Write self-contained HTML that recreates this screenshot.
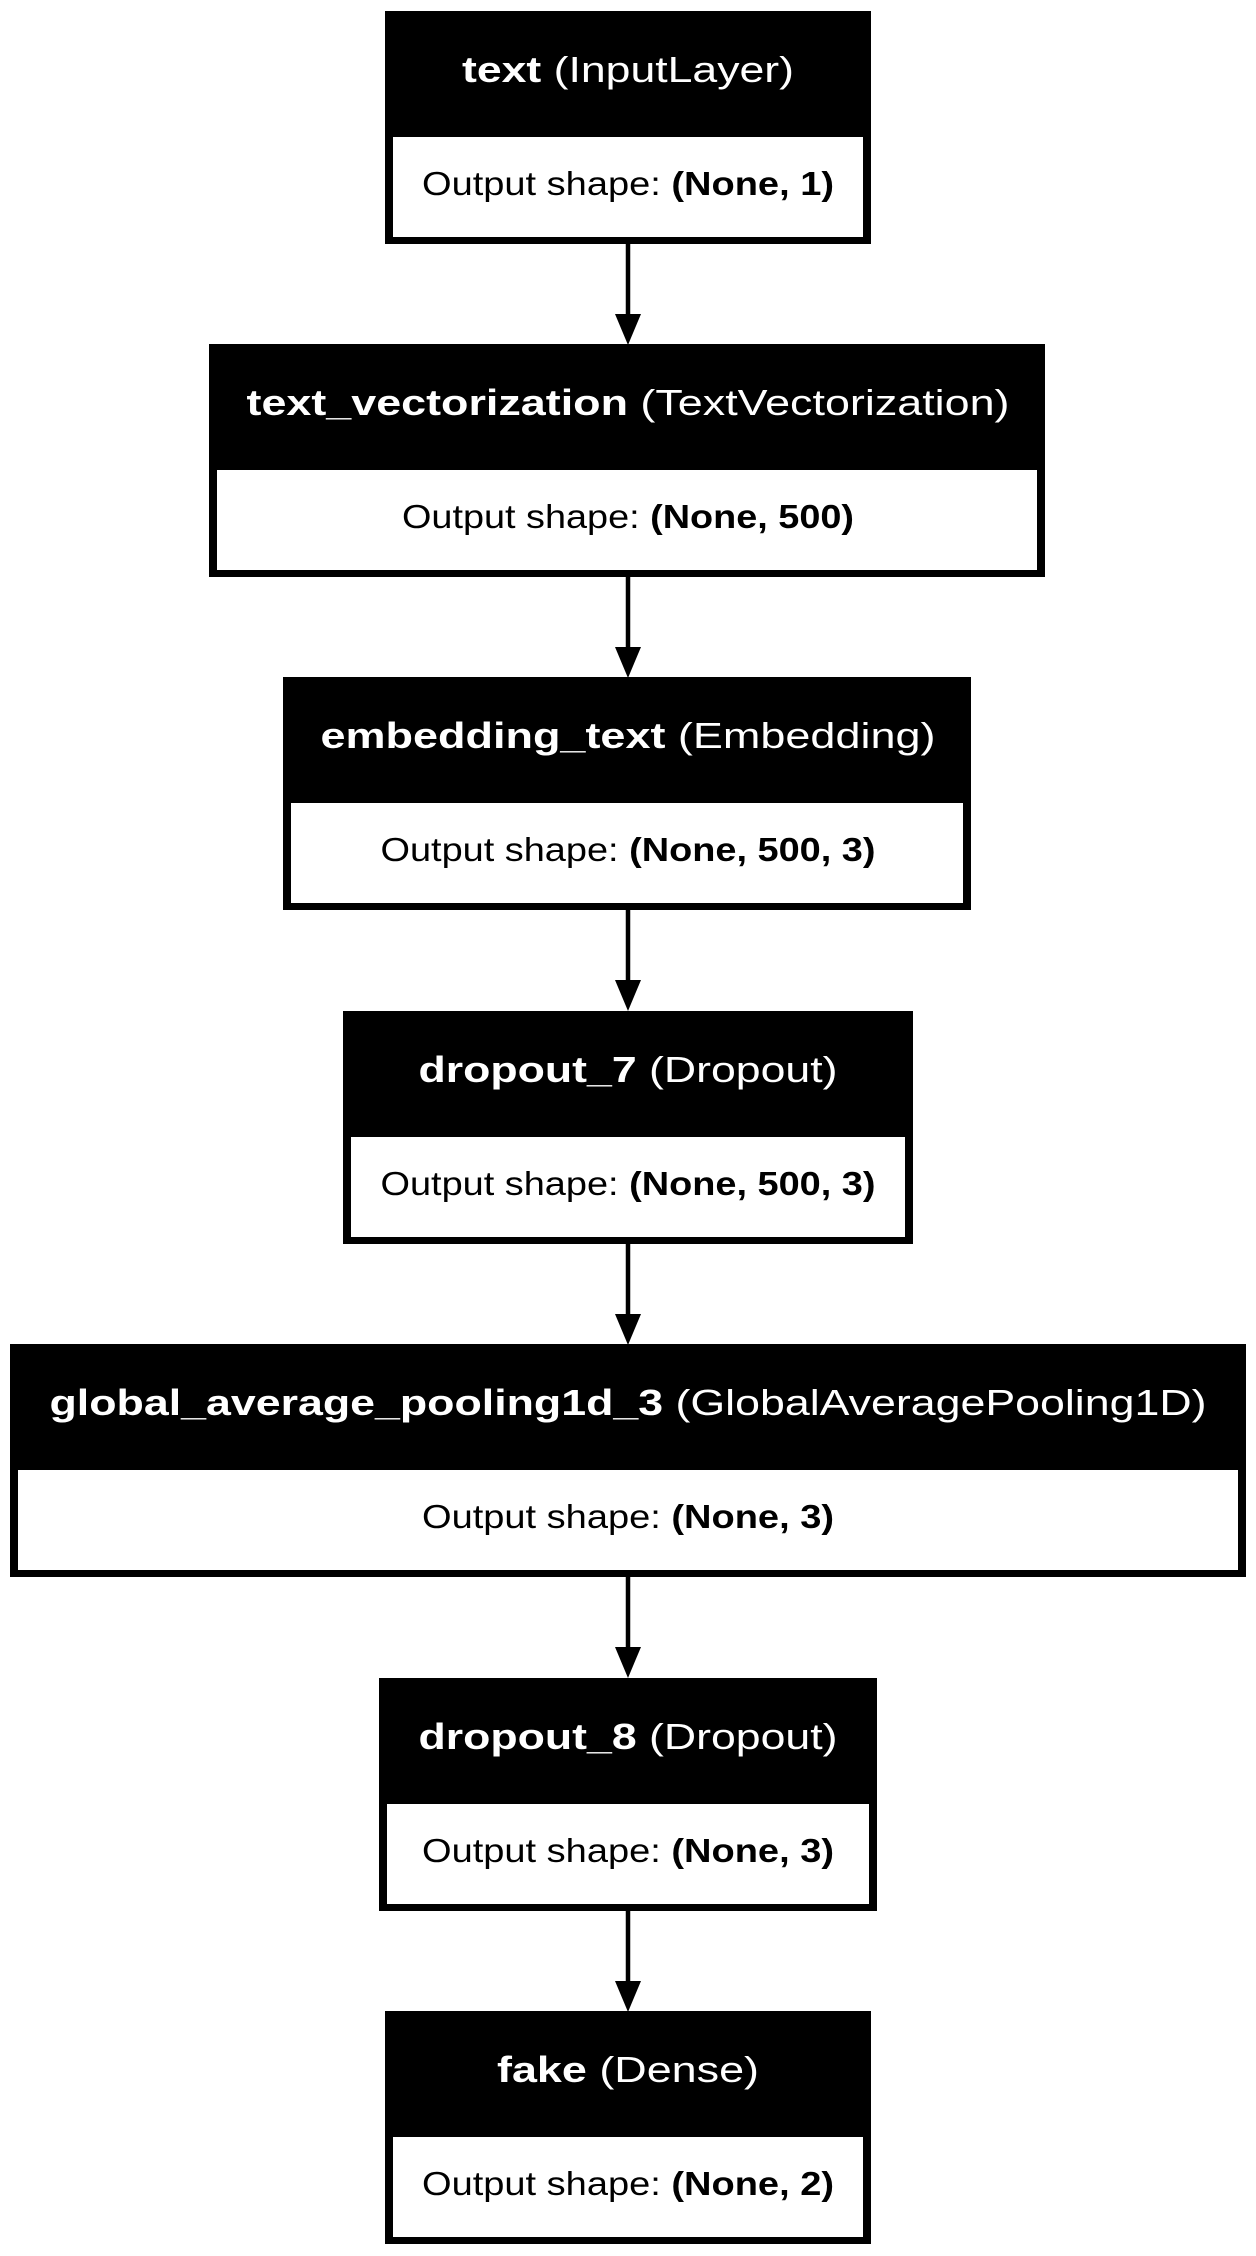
<!DOCTYPE html>
<html><head><meta charset="utf-8"><style>html,body{margin:0;padding:0;background:#fff}svg{display:block}</style></head>
<body>
<svg width="1256" height="2256" viewBox="0 0 1256 2256" xmlns="http://www.w3.org/2000/svg" font-family="Liberation Sans, Arial, sans-serif">
<rect width="1256" height="2256" fill="#fff"/>
<g id="boxes">
<rect x="385" y="11" width="486" height="233" fill="#000"/>
<rect x="393" y="137" width="470" height="100" fill="#fff"/>
<text x="628" y="82" font-size="36" fill="#fff" text-anchor="middle" textLength="332" lengthAdjust="spacingAndGlyphs"><tspan font-weight="bold">text</tspan> (InputLayer)</text>
<text x="628" y="195" font-size="33" fill="#000" text-anchor="middle" textLength="412" lengthAdjust="spacingAndGlyphs">Output shape: <tspan font-weight="bold">(None, 1)</tspan></text>

<rect x="209" y="344" width="836" height="233" fill="#000"/>
<rect x="217" y="470" width="820" height="100" fill="#fff"/>
<text x="628" y="415" font-size="36" fill="#fff" text-anchor="middle" textLength="763" lengthAdjust="spacingAndGlyphs"><tspan font-weight="bold">text_vectorization</tspan> (TextVectorization)</text>
<text x="628" y="528" font-size="33" fill="#000" text-anchor="middle" textLength="452" lengthAdjust="spacingAndGlyphs">Output shape: <tspan font-weight="bold">(None, 500)</tspan></text>

<rect x="283" y="677" width="688" height="233" fill="#000"/>
<rect x="291" y="803" width="672" height="100" fill="#fff"/>
<text x="628" y="748" font-size="36" fill="#fff" text-anchor="middle" textLength="615" lengthAdjust="spacingAndGlyphs"><tspan font-weight="bold">embedding_text</tspan> (Embedding)</text>
<text x="628" y="861" font-size="33" fill="#000" text-anchor="middle" textLength="495" lengthAdjust="spacingAndGlyphs">Output shape: <tspan font-weight="bold">(None, 500, 3)</tspan></text>

<rect x="343" y="1011" width="570" height="233" fill="#000"/>
<rect x="351" y="1137" width="554" height="100" fill="#fff"/>
<text x="628" y="1082" font-size="36" fill="#fff" text-anchor="middle" textLength="419" lengthAdjust="spacingAndGlyphs"><tspan font-weight="bold">dropout_7</tspan> (Dropout)</text>
<text x="628" y="1195" font-size="33" fill="#000" text-anchor="middle" textLength="495" lengthAdjust="spacingAndGlyphs">Output shape: <tspan font-weight="bold">(None, 500, 3)</tspan></text>

<rect x="10" y="1344" width="1236" height="233" fill="#000"/>
<rect x="18" y="1470" width="1220" height="100" fill="#fff"/>
<text x="628" y="1415" font-size="36" fill="#fff" text-anchor="middle" textLength="1157" lengthAdjust="spacingAndGlyphs"><tspan font-weight="bold">global_average_pooling1d_3</tspan> (GlobalAveragePooling1D)</text>
<text x="628" y="1528" font-size="33" fill="#000" text-anchor="middle" textLength="412" lengthAdjust="spacingAndGlyphs">Output shape: <tspan font-weight="bold">(None, 3)</tspan></text>

<rect x="379" y="1678" width="498" height="233" fill="#000"/>
<rect x="387" y="1804" width="482" height="100" fill="#fff"/>
<text x="628" y="1749" font-size="36" fill="#fff" text-anchor="middle" textLength="419" lengthAdjust="spacingAndGlyphs"><tspan font-weight="bold">dropout_8</tspan> (Dropout)</text>
<text x="628" y="1862" font-size="33" fill="#000" text-anchor="middle" textLength="412" lengthAdjust="spacingAndGlyphs">Output shape: <tspan font-weight="bold">(None, 3)</tspan></text>

<rect x="385" y="2011" width="486" height="233" fill="#000"/>
<rect x="393" y="2137" width="470" height="100" fill="#fff"/>
<text x="628" y="2082" font-size="36" fill="#fff" text-anchor="middle" textLength="262" lengthAdjust="spacingAndGlyphs"><tspan font-weight="bold">fake</tspan> (Dense)</text>
<text x="628" y="2195" font-size="33" fill="#000" text-anchor="middle" textLength="412" lengthAdjust="spacingAndGlyphs">Output shape: <tspan font-weight="bold">(None, 2)</tspan></text>
</g>
<g stroke="#000" stroke-width="4.5">
<line x1="628" y1="244" x2="628" y2="316"/>
<line x1="628" y1="577" x2="628" y2="649"/>
<line x1="628" y1="910" x2="628" y2="982"/>
<line x1="628" y1="1244" x2="628" y2="1316"/>
<line x1="628" y1="1577" x2="628" y2="1650"/>
<line x1="628" y1="1911" x2="628" y2="1983"/>
</g>
<g fill="#000">
<polygon points="615,314 641,314 628,345"/>
<polygon points="615,647 641,647 628,678"/>
<polygon points="615,980 641,980 628,1011"/>
<polygon points="615,1314 641,1314 628,1345"/>
<polygon points="615,1647 641,1647 628,1678"/>
<polygon points="615,1981 641,1981 628,2012"/>
</g>
</svg>
</body></html>
